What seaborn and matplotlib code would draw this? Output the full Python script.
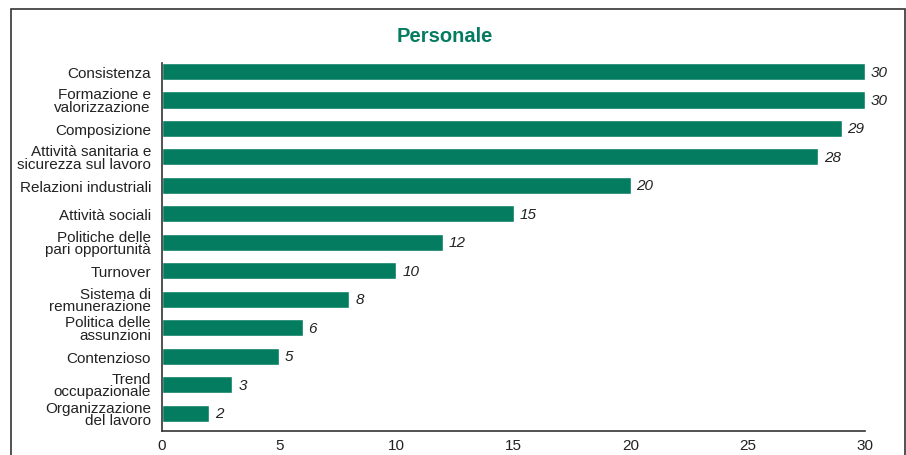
import matplotlib
matplotlib.use('Agg')
import matplotlib.pyplot as plt
import seaborn as sns
import pandas as pd
from matplotlib.patches import Rectangle

# ─────────────────────────────────────────
# Data
# ─────────────────────────────────────────
categories = [
    'Consistenza',
    'Formazione e\nvalorizzazione',
    'Composizione',
    'Attività sanitaria e\nsicurezza sul lavoro',
    'Relazioni industriali',
    'Attività sociali',
    'Politiche delle\npari opportunità',
    'Turnover',
    'Sistema di\nremunerazione',
    'Politica delle\nassunzioni',
    'Contenzioso',
    'Trend\noccupazionale',
    'Organizzazione\ndel lavoro',
]
values = [30, 30, 29, 28, 20, 15, 12, 10, 8, 6, 5, 3, 2]
x_ticks = [0, 5, 10, 15, 20, 25, 30]

GREEN = '#047c60'

df = pd.DataFrame({'cat': categories, 'val': values})

sns.set_style('white')
plt.rcParams['font.family'] = ['Liberation Sans', 'DejaVu Sans']

fig = plt.figure(figsize=(9.06, 4.56), dpi=100)
ax = fig.add_axes([162 / 906, 1 - 432 / 456, (865 - 162) / 906, (432 - 64) / 456])

sns.barplot(data=df, x='val', y='cat', orient='h', color=GREEN,
            saturation=1, width=0.6, ax=ax)

for i, v in enumerate(values):
    ax.text(v + 0.25, i, str(v), va='center', ha='left',
            fontsize=11, style='italic', color='#222222')

ax.set_xlim(0, 30)
ax.set_ylim(len(values) - 1 + 0.63, -0.3)
ax.set_xticks(x_ticks)
ax.set_xticklabels([str(t) for t in x_ticks], fontsize=11, color='#222222')
ax.set_yticks(range(len(categories)))
ax.set_yticklabels(categories, fontsize=11, color='#222222', linespacing=0.85)
ax.tick_params(axis='x', length=0, pad=5)
ax.tick_params(axis='y', length=0, pad=8)
ax.set_xlabel('')
ax.set_ylabel('')

for s in ['top', 'right']:
    ax.spines[s].set_visible(False)
for s in ['left', 'bottom']:
    ax.spines[s].set_color('#333333')
    ax.spines[s].set_linewidth(1.2)

# title and outer frame
fig.text(445 / 906, 1 - 36 / 456, 'Personale', ha='center', va='center',
         fontsize=14.5, fontweight='bold', color=GREEN)
fig.patches.append(Rectangle((11 / 906, -0.1), (905 - 11) / 906, 1.1 - 10 / 456,
                             transform=fig.transFigure, fill=False,
                             edgecolor='#333333', linewidth=1.2))

plt.savefig('out.png', dpi=100)
